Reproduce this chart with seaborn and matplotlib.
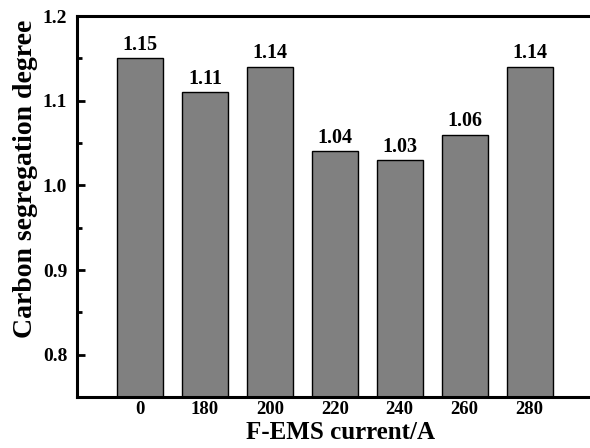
import seaborn as sns
import numpy as np
import pandas as pd
import matplotlib
matplotlib.use("Agg")
import matplotlib.pyplot as plt
from matplotlib.ticker import MultipleLocator

currents = ["0", "180", "200", "220", "240", "260", "280"]
segregation = [1.15, 1.11, 1.14, 1.04, 1.03, 1.06, 1.14]

sns.set_style("ticks")
plt.rcParams['font.family'] = ['Liberation Serif', 'DejaVu Serif']
plt.rcParams['font.weight'] = 'bold'
plt.rcParams['text.color'] = 'black'
plt.rcParams['axes.labelcolor'] = 'black'
plt.rcParams['xtick.color'] = 'black'
plt.rcParams['ytick.color'] = 'black'

df = pd.DataFrame({"current": currents, "degree": segregation})

fig = plt.figure(figsize=(5.9, 4.48), dpi=100)
ax = fig.add_axes([0.1305, 0.1138, 0.8695, 0.8504])

sns.barplot(data=df, x="current", y="degree", order=currents, ax=ax,
            color="#808080", saturation=1, width=0.71,
            edgecolor="black", linewidth=1.0)

for i, v in enumerate(segregation):
    ax.text(i, v + 0.004, f"{v:.2f}", ha="center", va="bottom",
            fontsize=14.5, fontweight="bold")

ax.set_ylim(0.75, 1.2)
ax.set_xlim(-0.97, 6.93)
ax.yaxis.set_minor_locator(MultipleLocator(0.05))
ax.set_yticks([0.8, 0.9, 1.0, 1.1, 1.2])
ax.set_yticklabels(["0.8", "0.9", "1.0", "1.1", "1.2"])

ax.tick_params(axis="y", which="major", direction="in", length=6, width=2,
               labelsize=14, pad=7)
ax.tick_params(axis="y", which="minor", direction="in", length=3.5, width=2)
ax.tick_params(axis="x", which="both", length=0, labelsize=13.5, pad=3)
for lab in ax.get_xticklabels() + ax.get_yticklabels():
    lab.set_fontweight("bold")

for s in ["left", "bottom", "top"]:
    ax.spines[s].set_linewidth(2.2)
    ax.spines[s].set_color("black")
ax.spines["right"].set_visible(False)

ax.set_xlabel("F-EMS current/A", fontsize=18, fontweight="bold")
ax.set_ylabel("Carbon segregation degree", fontsize=20, fontweight="bold")
ax.xaxis.set_label_coords(0.513, -0.063)
ax.yaxis.set_label_coords(-0.076, 0.573)

fig.savefig("out.png", dpi=100)
